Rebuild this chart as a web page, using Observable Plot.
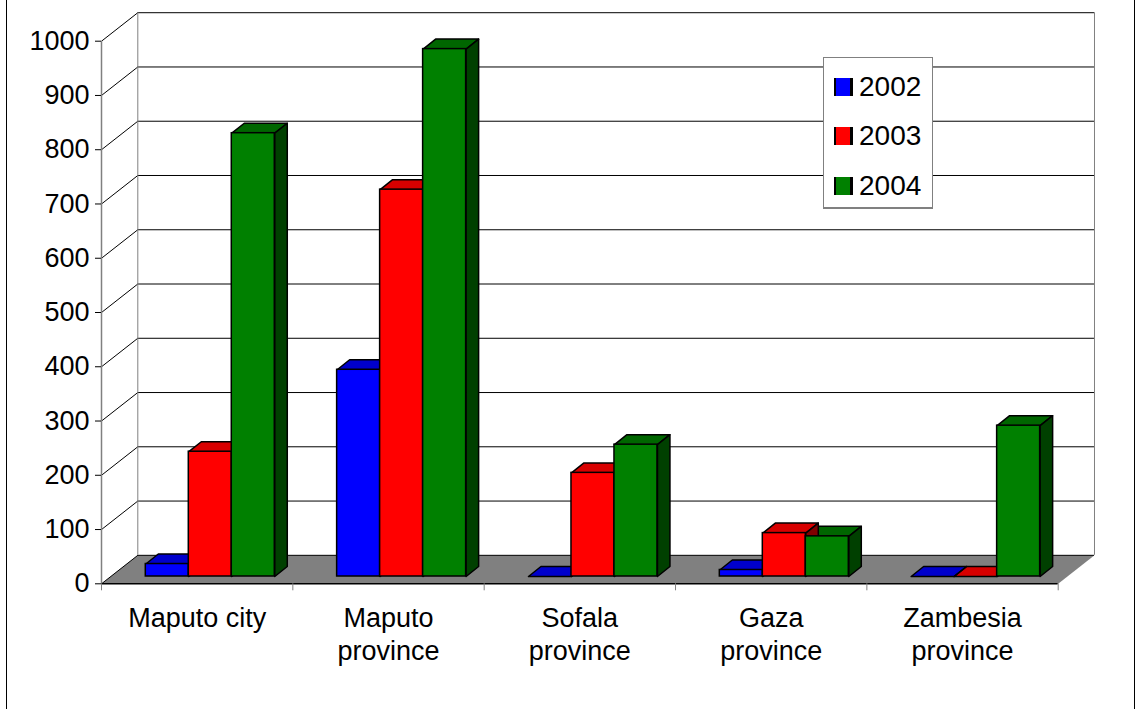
<!DOCTYPE html>
<html>
<head>
<meta charset="utf-8">
<script src="https://cdn.jsdelivr.net/npm/d3@7"></script>
<script src="https://cdn.jsdelivr.net/npm/@observablehq/plot@0.6"></script>
<style>
  html, body { margin: 0; padding: 0; background: #fff; }
  #wrap { position: relative; width: 1138px; height: 709px; overflow: hidden; font-family: "Liberation Sans", Arial, sans-serif; }
  #chart svg { display: block; }
  #border { position: absolute; left: 6px; top: -5px; width: 1129px; height: 725px; border: 1px solid #000; box-sizing: border-box; pointer-events: none; }
  #legend { position: absolute; left: 823px; top: 57px; width: 110px; height: 152px; box-sizing: border-box; border: 1px solid #808080; border-bottom-width: 2px; background: #fff; padding-top: 4px; }
  .row { display: flex; align-items: center; height: 49.5px; }
  .sw { width: 14px; height: 18px; margin-left: 10px; border-left: 2px solid #000; border-right: 3px solid #000; box-sizing: content-box; }
  .lab { margin-left: 6px; font-size: 28px; color: #000; }
</style>
</head>
<body>
<div id="wrap">
  <div id="chart"></div>
  <div id="legend"></div>
  <div id="border"></div>
</div>
<script>
// ---- data ----
const categories = ["Maputo city", "Maputo\nprovince", "Sofala\nprovince", "Gaza\nprovince", "Zambesia\nprovince"];
const years = ["2002", "2003", "2004"];
const values2002 = [23, 381, 0, 12, 0];
const values2003 = [230, 713, 191, 80, 0];
const values2004 = [817, 972, 243, 74, 278];
const yTicks = [0, 100, 200, 300, 400, 500, 600, 700, 800, 900, 1000];

// ---- styles ----
const frontColors = ["#0000ff", "#ff0000", "#008000"];
const topColors = ["#0000cc", "#d80000", "#006600"];
const sideColors = ["#000080", "#800000", "#004000"];

// ---- 3D geometry (in scale units) ----
const DX = 0.1897, DY = 52.5;          // full depth of the floor / walls
const BAR_OFF = 0.2315, BAR_W = 0.2247; // bar placement within a category
const BASE = 13.45;                     // bar front base (depth offset)
const BDX = 0.0653, BDY = 18.4;         // bar depth

const series = [values2002, values2003, values2004];
const bars = [];
categories.forEach((c, ci) => {
  series.forEach((vals, s) => {
    const x1 = ci + BAR_OFF + s * BAR_W;
    bars.push({id: ci * 3 + s, s, x1, x2: x1 + BAR_W, y1: BASE, y2: BASE + vals[ci]});
  });
});
const poly = (id, s, pts) => pts.concat([pts[0]]).map(([x, y]) => ({x, y, id, s}));
const tops = bars.flatMap(b => poly(b.id, b.s, [[b.x1, b.y2], [b.x2, b.y2], [b.x2 + BDX, b.y2 + BDY], [b.x1 + BDX, b.y2 + BDY]]));
const sides = bars.flatMap(b => poly(b.id, b.s, [[b.x2, b.y1], [b.x2 + BDX, b.y1 + BDY], [b.x2 + BDX, b.y2 + BDY], [b.x2, b.y2]]));
const n = categories.length;
const floor = poly(0, 0, [[0, 0], [n, 0], [n + DX, DY], [DX, DY]]);

const chart = Plot.plot({
  width: 1138,
  height: 709,
  marginLeft: 101,
  marginRight: 80.3,
  marginTop: 40.7,
  marginBottom: 125.7,
  x: {domain: [0, n]},
  y: {domain: [0, 1000]},
  color: {type: "identity"},
  style: {fontFamily: "'Liberation Sans', Arial, sans-serif", fontSize: "27px", background: "transparent", color: "#000"},
  marks: [
    // floor
    Plot.line(floor, {x: "x", y: "y", z: "id", fill: "#808080", stroke: "none"}),
    // back wall gridlines
    Plot.ruleY(yTicks, {y: d => d + DY, x1: () => DX, x2: () => n + DX, stroke: "#000", strokeWidth: 1}),
    // left wall diagonals
    Plot.link(yTicks, {x1: () => 0, y1: d => d, x2: () => DX, y2: d => d + DY, stroke: "#000", strokeWidth: 1}),
    // wall vertical edges
    Plot.ruleX([DX, n + DX], {x: d => d, y1: () => DY, y2: () => 1000 + DY, stroke: "#808080", strokeWidth: 1}),
    // y axis line
    Plot.ruleX([0], {x: d => d, y1: () => 0, y2: () => 1000, stroke: "#808080", strokeWidth: 1.5}),
    // floor front edge
    Plot.ruleY([0], {y: d => d, x1: () => 0, x2: () => n, stroke: "#000", strokeWidth: 1.5}),
    Plot.axisY({ticks: yTicks, tickSize: 6, tickPadding: 6, fontSize: 27, stroke: "#000", tickFormat: d => String(d)}),
    Plot.axisX({ticks: d3.range(n + 1), tickSize: 7, tickFormat: () => "", stroke: "#808080"}),
    // bars
    Plot.line(tops, {x: "x", y: "y", z: "id", fill: d => topColors[d.s], stroke: "#000", strokeWidth: 1.5, strokeLinejoin: "round"}),
    Plot.line(sides, {x: "x", y: "y", z: "id", fill: d => sideColors[d.s], stroke: "#000", strokeWidth: 1.5, strokeLinejoin: "round"}),
    Plot.rect(bars, {x1: "x1", x2: "x2", y1: "y1", y2: "y2", fill: d => frontColors[d.s], stroke: "#000", strokeWidth: 1.5}),
    // category labels
    Plot.text(categories, {x: (d, i) => i + 0.5, y: () => 0, text: d => d, lineAnchor: "top", dy: 20, fontSize: 27, lineHeight: 1.22, fill: "#000"})
  ]
});
document.getElementById("chart").appendChild(chart);

// legend
const legend = document.getElementById("legend");
years.forEach((y, i) => {
  const row = document.createElement("div");
  row.className = "row";
  const sw = document.createElement("span");
  sw.className = "sw";
  sw.style.background = frontColors[i];
  const lab = document.createElement("span");
  lab.className = "lab";
  lab.textContent = y;
  row.appendChild(sw);
  row.appendChild(lab);
  legend.appendChild(row);
});
</script>
</body>
</html>
